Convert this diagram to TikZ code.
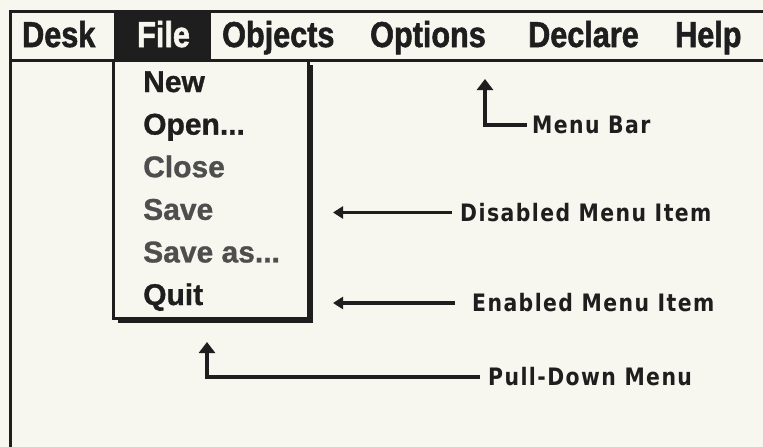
\documentclass[tikz,border=0pt]{standalone}
\usepackage{fontspec}
\usetikzlibrary{arrows.meta,shadows}
\newfontfamily\barfont{Liberation Sans}[FakeStretch=0.85,FakeBold=1.5]
\newfontfamily\itemfont{Liberation Sans}[FakeBold=1]
\newfontfamily\notefont{DejaVu Sans}[LetterSpace=6,FakeStretch=0.85]
\definecolor{paper}{HTML}{F7F7F0}
\definecolor{ink}{HTML}{1E1E1E}
\definecolor{dim}{HTML}{4E4E4E}
\tikzset{
  frameline/.style={draw=ink,line width=3pt},
  bartext/.style={anchor=base west,inner sep=0pt,text=ink,font=\barfont\bfseries\fontsize{36}{36}\selectfont},
  itemtext/.style={anchor=base west,inner sep=0pt,text=ink,font=\itemfont\bfseries\fontsize{30}{30}\selectfont},
  dimtext/.style={itemtext,text=dim},
  notetext/.style={anchor=west,inner sep=0pt,text=ink,font=\notefont\bfseries\fontsize{24}{24}\selectfont},
  menubox/.style={draw=ink,line width=3pt,fill=paper,inner sep=0pt,minimum width=195pt,minimum height=258.5pt,
    drop shadow={opacity=1,fill=ink,shadow xshift=4.5pt,shadow yshift=-4.5pt}},
  arrH/.style={draw=ink,line width=3.2pt,-{Triangle[length=10pt,width=12pt]}},
  arrV/.style={draw=ink,line width=3.4pt,-{Triangle[length=11pt,width=16pt]}},
}
\begin{document}
\begin{tikzpicture}[x=1pt,y=-1pt]
\fill[paper] (0,0) rectangle (763,447);
\useasboundingbox (0,0) rectangle (763,447);
% pull-down menu box
\node[menubox] (menu) at (211,189.25) {};
% window frame and menu bar
\draw[frameline] (10,447) -- (10,11) -- (763,11);
\draw[frameline] (10,60.5) -- (763,60.5);
\fill[ink] (114,11) rectangle (211,60);
% menu bar titles
\node[bartext] (desk) at (22,47) {Desk};
\node[bartext,text=paper] (file) at (137,47) {File};
\node[bartext] (objects) at (222,47) {Objects};
\node[bartext] (options) at (370,47) {Options};
\node[bartext] (declare) at (528,47) {Declare};
\node[bartext] (help) at (675,47) {Help};
% menu items
\node[itemtext] (new) at (143,92) {New};
\node[itemtext] (open) at (143,134.6) {Open...};
\node[dimtext] (close) at (143,177.2) {Close};
\node[dimtext] (save) at (143,219.8) {Save};
\node[dimtext] (saveas) at (143,262.4) {Save as...};
\node[itemtext] (quit) at (143,305) {Quit};
% annotations
\node[notetext] (mbl) at (532,125) {Menu Bar};
\node[notetext] (dis) at (460,212.5) {Disabled Menu Item};
\node[notetext] (ena) at (472,303) {Enabled Menu Item};
\node[notetext] (pdl) at (488,377) {Pull-Down Menu};
\coordinate (mbtip) at (485,79);
\coordinate (distip) at (333,212.5);
\coordinate (enatip) at (333,303);
\coordinate (pdtip) at (207,342);
\draw[arrV] ([xshift=-5pt]mbl.west) -| (mbtip);
\draw[arrH] ([xshift=-8pt]dis.west) -- (distip);
\draw[arrH] ([xshift=-17pt]ena.west) -- (enatip);
\draw[arrV] ([xshift=-8pt]pdl.west) -| (pdtip);
\end{tikzpicture}
\end{document}
